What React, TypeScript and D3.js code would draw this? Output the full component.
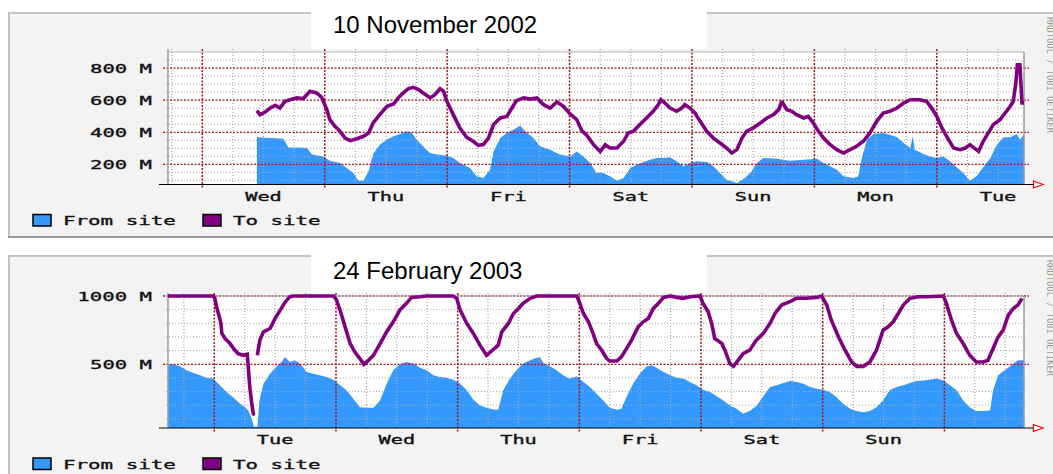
import React from "react";
import * as d3 from "d3";

type Pt = [number, number];

// hours since the first midnight shown (Wed 00:00 / Tue 00:00), value in M
const novFromSite: Pt[] = [
  [10.7, 369], [13.3, 364], [15.9, 360], [16.9, 306], [19.2, 306], [20.5, 302], [21.5, 261], [23.7, 250],
  [25.0, 223], [27.0, 209], [28.3, 178], [29.6, 146], [30.6, 98], [31.6, 98], [32.6, 157], [33.5, 265],
  [34.8, 323], [36.1, 354], [37.5, 375], [38.8, 389], [40.1, 406], [41.1, 396], [42.0, 354], [43.3, 313],
  [44.6, 271], [46.0, 261], [47.9, 256], [49.2, 240], [50.5, 209], [52.5, 178], [53.8, 126], [55.1, 115],
  [56.4, 167], [57.1, 281], [58.4, 364], [59.7, 396], [61.0, 416], [62.3, 443], [63.3, 406], [64.9, 364],
  [66.2, 313], [68.2, 292], [70.1, 261], [72.1, 250], [73.4, 281], [74.7, 250], [76.0, 210], [77.3, 146],
  [78.6, 146], [79.9, 126], [81.3, 98], [82.6, 115], [83.9, 178], [85.2, 198], [86.5, 215], [87.8, 229],
  [89.1, 240], [90.4, 240], [91.7, 244], [93.0, 219], [94.3, 188], [95.6, 209], [96.9, 219], [98.9, 215],
  [100.2, 188], [101.5, 146], [102.8, 105], [104.8, 84], [106.4, 115], [107.7, 157], [108.7, 209], [110.0, 240],
  [112.6, 236], [115.2, 223], [117.9, 229], [120.5, 236], [121.8, 209], [123.1, 188], [124.4, 167], [125.7, 126],
  [127.7, 115], [128.6, 126], [129.3, 240], [130.3, 354], [131.6, 389], [133.5, 396], [134.8, 385], [136.2, 369],
  [137.5, 333], [138.8, 302], [139.3, 375], [139.7, 292], [141.4, 265], [142.7, 250], [144.0, 240], [145.3, 250],
  [146.6, 219], [147.9, 182], [149.2, 146], [150.5, 98], [151.8, 126], [153.1, 182], [154.5, 240], [155.8, 323],
  [157.1, 369], [158.4, 369], [159.7, 389], [160.3, 354], [161.0, 385], [161.5, 385],
];

const novToSite: Pt[] = [
  [10.7, 535], [11.3, 510], [12.3, 526], [13.3, 551], [14.3, 568], [15.2, 551], [16.2, 593], [17.2, 603],
  [18.5, 614], [19.8, 610], [21.1, 655], [22.4, 645], [23.4, 618], [24.4, 541], [25.0, 479], [26.0, 437],
  [27.0, 406], [28.0, 364], [29.0, 348], [30.3, 360], [31.6, 375], [32.6, 396], [33.5, 458], [34.8, 510],
  [36.2, 562], [37.5, 576], [38.4, 614], [39.4, 645], [40.4, 672], [41.4, 680], [42.4, 666], [43.3, 645],
  [44.7, 614], [45.6, 634], [46.6, 672], [47.3, 655], [47.9, 597], [49.2, 510], [50.5, 427], [51.8, 369],
  [53.1, 344], [54.1, 319], [55.1, 323], [56.1, 364], [57.1, 448], [58.4, 489], [59.7, 499], [60.7, 551],
  [61.6, 597], [63.0, 614], [64.3, 607], [65.6, 614], [66.9, 572], [68.2, 551], [69.5, 589], [70.8, 562],
  [72.1, 514], [73.4, 479], [74.4, 410], [75.4, 381], [76.7, 323], [78.0, 281], [79.0, 323], [79.9, 302],
  [81.3, 302], [82.6, 344], [83.5, 396], [84.5, 406], [85.8, 448], [87.1, 489], [88.4, 531], [89.4, 572],
  [89.9, 603], [90.7, 582], [91.7, 551], [93.0, 531], [94.0, 551], [94.6, 572], [95.6, 551], [96.6, 520],
  [97.6, 468], [98.9, 406], [100.2, 364], [101.5, 333], [102.8, 302], [103.8, 271], [104.8, 292], [105.8, 364],
  [106.7, 406], [108.0, 427], [109.4, 458], [110.7, 489], [112.0, 510], [113.0, 541], [113.6, 593], [114.6, 541],
  [115.6, 531], [116.5, 510], [117.9, 489], [118.8, 499], [119.8, 458], [120.8, 406], [121.8, 364], [123.1, 323],
  [124.4, 292], [125.7, 271], [127.0, 292], [128.3, 313], [129.6, 344], [130.9, 396], [132.2, 468], [133.5, 520],
  [134.8, 531], [136.2, 551], [137.5, 582], [138.8, 603], [140.7, 603], [142.0, 593], [143.0, 551], [144.0, 499],
  [145.0, 427], [146.3, 354], [147.3, 302], [148.6, 292], [149.6, 302], [150.5, 323], [152.2, 281], [153.1, 344],
  [154.1, 396], [155.1, 448], [156.4, 479], [157.4, 520], [158.4, 562], [159.0, 593], [159.5, 707], [159.8, 821],
  [160.3, 821], [160.7, 583], [161.1, 583],
];

const febFromSite: Pt[] = [
  [-9.3, 500], [-8.1, 500], [-6.8, 485], [-5.5, 456], [-4.1, 436], [-2.8, 419], [-1.5, 402], [-0.2, 395],
  [1.1, 346], [2.4, 297], [3.8, 255], [5.1, 211], [6.1, 186], [6.7, 162], [7.4, 100], [7.8, 45],
  [8.5, 40], [8.9, 235], [9.7, 358], [11.0, 431], [12.3, 485], [13.3, 517], [13.9, 554], [14.9, 517],
  [15.9, 529], [16.9, 505], [18.2, 444], [19.5, 431], [20.8, 419], [22.2, 407], [23.5, 387], [24.8, 346],
  [26.1, 309], [27.4, 248], [28.7, 186], [30.0, 181], [31.4, 181], [32.7, 235], [34.0, 358], [35.3, 456],
  [36.6, 500], [37.9, 517], [39.3, 505], [40.6, 475], [41.9, 456], [43.2, 419], [44.5, 407], [45.8, 402],
  [47.1, 387], [48.5, 358], [49.8, 309], [51.1, 240], [52.4, 198], [53.7, 181], [55.0, 169], [56.0, 167],
  [57.0, 309], [58.3, 395], [59.6, 456], [60.9, 505], [62.3, 529], [63.2, 542], [64.2, 554], [64.9, 510],
  [66.2, 485], [67.5, 456], [68.8, 419], [70.1, 395], [71.5, 412], [72.8, 370], [74.1, 333], [75.4, 284],
  [76.7, 235], [78.0, 181], [79.4, 167], [80.3, 174], [81.3, 260], [82.6, 358], [83.9, 431], [85.3, 485],
  [86.3, 493], [87.2, 475], [88.6, 444], [89.9, 419], [91.2, 402], [92.5, 395], [93.8, 370], [95.1, 346],
  [96.4, 314], [97.8, 297], [99.1, 265], [100.4, 235], [101.7, 198], [103.0, 174], [104.3, 137], [105.6, 157],
  [107.0, 198], [108.3, 265], [109.6, 333], [110.9, 346], [112.2, 363], [113.5, 377], [114.8, 370], [116.2, 358],
  [117.5, 333], [118.8, 321], [120.1, 314], [121.4, 297], [122.7, 260], [124.0, 211], [125.4, 174], [126.7, 157],
  [128.0, 149], [129.3, 157], [130.6, 186], [131.9, 235], [133.2, 309], [134.6, 333], [135.9, 346], [137.2, 363],
  [138.5, 377], [139.8, 382], [141.1, 387], [142.5, 395], [143.8, 382], [145.1, 346], [146.4, 309], [147.7, 235],
  [149.0, 186], [150.3, 157], [151.7, 157], [153.0, 162], [153.6, 309], [154.6, 419], [155.9, 456], [157.2, 493],
  [158.5, 529], [159.5, 529], [160.0, 529],
];

const febToSite: Pt[] = [
  [-9.3, 1000], [-0.2, 1000], [0.1, 983], [0.6, 897], [1.0, 848], [1.3, 799], [1.5, 726], [2.1, 689],
  [3.1, 652], [3.8, 615], [4.7, 578], [5.7, 566], [6.5, 573], [6.7, 480], [7.0, 333], [7.4, 211],
  [7.7, 137], [8.0, 132], [8.25, NaN], [8.5, 566], [8.7, 615], [9.0, 677], [9.7, 738], [11.0, 762],
  [12.0, 836], [13.0, 897], [13.9, 951], [14.9, 995], [15.6, 1000], [23.5, 1000], [24.1, 971], [24.8, 897],
  [25.8, 774], [26.8, 652], [27.7, 591], [28.7, 542], [29.5, 500], [30.4, 529], [31.4, 566], [32.7, 652],
  [34.0, 738], [35.3, 811], [36.6, 897], [37.9, 946], [38.9, 990], [40.6, 995], [41.9, 1000], [47.1, 1000],
  [47.8, 983], [48.5, 897], [49.8, 799], [51.1, 726], [52.4, 640], [53.7, 566], [55.0, 608], [56.0, 640],
  [56.7, 738], [58.0, 799], [59.0, 872], [60.0, 909], [60.9, 946], [62.3, 983], [63.6, 1000], [71.5, 1000],
  [72.1, 946], [72.8, 872], [73.8, 811], [74.7, 726], [75.4, 652], [76.4, 603], [77.4, 542], [78.0, 524],
  [79.4, 524], [80.3, 554], [81.3, 615], [82.3, 677], [83.6, 774], [84.6, 811], [85.6, 836], [86.6, 909],
  [87.6, 946], [88.6, 990], [89.9, 1000], [91.2, 990], [92.5, 983], [93.8, 995], [95.8, 1000], [96.4, 946],
  [97.4, 885], [98.1, 799], [98.7, 689], [100.1, 652], [100.7, 603], [101.7, 505], [102.4, 485], [103.3, 529],
  [104.3, 578], [105.6, 603], [106.9, 677], [108.3, 726], [109.6, 799], [110.6, 872], [111.9, 934], [113.5, 958],
  [114.8, 983], [116.8, 983], [118.8, 990], [119.8, 1000], [120.8, 934], [121.7, 823], [123.1, 701], [124.4, 603],
  [125.7, 517], [126.7, 485], [128.0, 485], [129.3, 517], [130.6, 603], [131.9, 750], [132.9, 774], [133.9, 811],
  [134.9, 872], [135.9, 934], [137.2, 983], [138.8, 995], [140.5, 995], [143.8, 1000], [144.4, 946], [145.4, 823],
  [146.4, 726], [147.7, 652], [149.0, 566], [150.3, 517], [151.7, 517], [152.6, 529], [153.6, 615], [154.6, 701],
  [155.6, 750], [156.6, 860], [157.6, 909], [158.5, 934], [159.3, 983],
];

const novDays = ["Wed", "Thu", "Fri", "Sat", "Sun", "Mon", "Tue"];
const febDays = ["Tue", "Wed", "Thu", "Fri", "Sat", "Sun"];
const novYTicks = [200, 400, 600, 800];
const febYTicks = [500, 1000];
const novTitle = "10 November 2002";
const febTitle = "24 February 2003";
const legendLabels = ["From site", "To site"];
const watermark = "RRDTOOL / TOBI OETIKER";

const BLUE = "#3399ff";
const PURPLE = "#800080";
const GRID_MINOR = "#a8a8a8";
const GRID_MAJOR = "#a01818";
const MONO = "'DejaVu Sans Mono', monospace";

const textLen = (s: string) => s.length * 12.7 - 1.5;

interface PanelProps {
  id: string;
  panelTop: number;
  panelBottom: number;
  drawBottomBorder: boolean;
  boxTop: number;
  plotTop: number;
  plotBottom: number;
  xDomain: [number, number];
  yDomain: [number, number];
  majors: number[];
  minorStep: number;
  days: string[];
  from: Pt[];
  to: Pt[];
  title: string;
  titleBaseline: number;
}

function MonoText({ x, y, s, anchor }: { x: number; y: number; s: string; anchor: "start" | "end" | "middle" }) {
  const len = textLen(s);
  const x0 = anchor === "start" ? x : anchor === "end" ? x - len : x - len / 2;
  return (
    <text
      x={x0}
      y={y}
      textLength={len}
      lengthAdjust="spacingAndGlyphs"
      fontFamily={MONO}
      fontWeight="normal"
      fontSize={13}
      fill="#111"
      stroke="#111"
      strokeWidth={0.35}
    >
      {s}
    </text>
  );
}

function Panel(p: PanelProps) {
  const left = 168;
  const right = 1024;
  const x = d3.scaleLinear().domain(p.xDomain).range([left, right]);
  const y = d3.scaleLinear().domain(p.yDomain).range([p.plotBottom, p.plotTop]);
  const defined = (d: Pt) => !isNaN(d[1]);
  const area = d3
    .area<Pt>()
    .defined(defined)
    .x((d) => x(d[0]))
    .y0(p.plotBottom + 0.5)
    .y1((d) => y(d[1]));
  const line = d3
    .line<Pt>()
    .defined(defined)
    .x((d) => x(d[0]))
    .y((d) => y(d[1]));
  const hours = d3.range(Math.ceil(p.xDomain[0] / 6) * 6, p.xDomain[1], 6);
  const minors = d3
    .range(p.minorStep, p.yDomain[1], p.minorStep)
    .filter((v) => v > p.yDomain[0] && !p.majors.includes(v));
  const clipId = `clip-${p.id}`;
  const legendSq = p.plotBottom + 30.5;
  const legendBase = p.plotBottom + 41;
  const dayBase = p.plotBottom + 16.7;

  return (
    <g>
      <defs>
        <clipPath id={clipId}>
          <rect x={left} y={p.plotTop - 4} width={right - left} height={p.plotBottom - p.plotTop + 5} />
        </clipPath>
      </defs>
      {/* panel background and frame */}
      <rect x={8} y={p.panelTop} width={1045} height={p.panelBottom - p.panelTop} fill="#f3f3f3" />
      <line x1={8} x2={1053} y1={p.panelTop + 1} y2={p.panelTop + 1} stroke="#c4c4c4" strokeWidth={2} />
      <line x1={9} x2={9} y1={p.panelTop} y2={p.panelBottom} stroke="#c4c4c4" strokeWidth={2} />
      {p.drawBottomBorder && (
        <line x1={8} x2={1053} y1={p.panelBottom - 1} y2={p.panelBottom - 1} stroke="#9a9a9a" strokeWidth={2} />
      )}
      {/* title box */}
      <rect x={311} y={p.boxTop} width={396} height={p.plotTop - 3 - p.boxTop} fill="#fff" />
      {/* plot area */}
      <rect x={left} y={p.plotTop} width={right - left} height={p.plotBottom - p.plotTop} fill="#fff" />
      <path d={area(p.from) || ""} fill={BLUE} clipPath={`url(#${clipId})`} />
      {/* grid */}
      {minors.map((v) => (
        <line
          key={`hm${v}`}
          x1={left - 2}
          x2={right + 3}
          y1={y(v)}
          y2={y(v)}
          stroke={GRID_MINOR}
          strokeWidth={1}
          strokeDasharray="1,2"
        />
      ))}
      {hours.map((h) => {
        const major = Math.abs(h % 24) < 1e-9;
        return (
          <line
            key={`v${h}`}
            x1={x(h)}
            x2={x(h)}
            y1={p.plotTop - 3}
            y2={p.plotBottom + (major ? 4 : 3)}
            stroke={major ? GRID_MAJOR : GRID_MINOR}
            strokeWidth={major ? 1.5 : 1.2}
            strokeDasharray={major ? "2,1.5" : "1,2"}
          />
        );
      })}
      {p.majors.map((v) => (
        <line
          key={`hM${v}`}
          x1={left - 5}
          x2={right + 5}
          y1={y(v)}
          y2={y(v)}
          stroke={GRID_MAJOR}
          strokeWidth={1.3}
          strokeDasharray="2,1.5"
        />
      ))}
      {/* frame */}
      <line x1={left} x2={left} y1={p.plotTop - 3} y2={p.plotBottom} stroke="#9c9c9c" strokeWidth={1.5} />
      <line x1={left} x2={right} y1={p.plotTop} y2={p.plotTop} stroke="#b4b4b4" strokeWidth={1} />
      <line x1={right} x2={right} y1={p.plotTop} y2={p.plotBottom} stroke="#9c9c9c" strokeWidth={1.5} />
      {/* data line */}
      <path
        d={line(p.to) || ""}
        fill="none"
        stroke={PURPLE}
        strokeWidth={3.6}
        strokeLinejoin="miter"
        strokeMiterlimit={2}
        clipPath={`url(#${clipId})`}
      />
      {/* x axis + arrow */}
      <line x1={159} x2={1034} y1={p.plotBottom + 0.5} y2={p.plotBottom + 0.5} stroke="#000" strokeWidth={1} />
      <path
        d={`M1033.5,${p.plotBottom - 3} L1043,${p.plotBottom + 0.5} L1033.5,${p.plotBottom + 4} Z`}
        fill="#fff"
        stroke="#ff0000"
        strokeWidth={1.2}
      />
      {/* y labels */}
      {p.majors.map((v) => (
        <MonoText key={`yl${v}`} x={152} y={y(v) + 4.5} s={`${v} M`} anchor="end" />
      ))}
      {/* day labels */}
      {p.days.map((d, i) => (
        <MonoText key={`d${i}`} x={x(12 + 24 * i)} y={dayBase} s={d} anchor="middle" />
      ))}
      {/* legend */}
      <rect x={33} y={legendSq} width={18} height={11.5} fill={BLUE} stroke="#000" strokeWidth={1.5} />
      <MonoText x={63} y={legendBase} s={legendLabels[0]} anchor="start" />
      <rect x={203} y={legendSq} width={18} height={11.5} fill={PURPLE} stroke="#000" strokeWidth={1.5} />
      <MonoText x={233} y={legendBase} s={legendLabels[1]} anchor="start" />
      {/* watermark */}
      <text
        transform={`translate(1046.5, ${p.panelTop + 5}) rotate(90)`}
        fontFamily={MONO}
        fontSize={9}
        fill="#9a9a9a"
        textLength={116}
        lengthAdjust="spacingAndGlyphs"
      >
        {watermark}
      </text>
      {/* title */}
      <text x={333} y={p.titleBaseline} fontFamily="'Liberation Sans', Arial, sans-serif" fontSize={24} fill="#000">
        {p.title}
      </text>
    </g>
  );
}

export default function App() {
  return (
    <div style={{ position: "absolute", left: 0, top: 0, width: 1053, height: 474, background: "#fff" }}>
      <svg width={1053} height={474} style={{ display: "block" }}>
        <rect x={0} y={0} width={1053} height={474} fill="#fff" />
        <Panel
          id="nov"
          panelTop={12}
          panelBottom={238}
          drawBottomBorder={true}
          boxTop={0}
          plotTop={52}
          plotBottom={184}
          xDomain={[-6.73, 161.1]}
          yDomain={[78, 900]}
          majors={novYTicks}
          minorStep={50}
          days={novDays}
          from={novFromSite}
          to={novToSite}
          title={novTitle}
          titleBaseline={33}
        />
        <Panel
          id="feb"
          panelTop={255}
          panelBottom={480}
          drawBottomBorder={false}
          boxTop={240}
          plotTop={296}
          plotBottom={427.5}
          xDomain={[-9.13, 159.7]}
          yDomain={[37, 1000]}
          majors={febYTicks}
          minorStep={100}
          days={febDays}
          from={febFromSite}
          to={febToSite}
          title={febTitle}
          titleBaseline={279}
        />
      </svg>
    </div>
  );
}
